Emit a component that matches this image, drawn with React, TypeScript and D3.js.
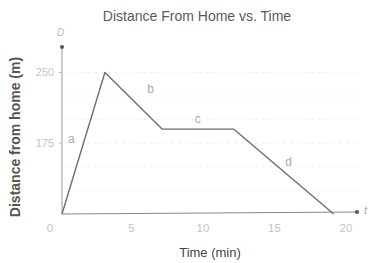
import React from 'react';
import * as d3 from 'd3';

// values
const times = [0, 3, 7, 12, 19];
const distances = [100, 250, 190, 190, 100];
const segmentLabels = ['a', 'b', 'c', 'd'];
const xTicks = [0, 5, 10, 15, 20];
const yTicks = [175, 250];
const gridValues = [125, 150, 175, 200, 225, 250];

const W = 373;
const H = 263;

const App: React.FC = () => {
  const x = d3.scaleLinear().domain([0, 20]).range([62, 348]);
  const y = d3.scaleLinear().domain([100, 277]).range([214, 47]);

  const pts = times.map((t, i) => [x(t), y(distances[i])] as [number, number]);
  const line = d3.line<[number, number]>()(pts) || '';

  // label offsets for each segment (px from the segment midpoint)
  const labelOffsets: [number, number][] = [[-12, 0], [17, -8], [0, -6], [5, -6]];

  const font = 'Liberation Sans, Arial, sans-serif';

  return (
    <svg width={W} height={H} style={{ position: 'absolute', left: 0, top: 0, background: '#fff' }}
      fontFamily={font}>
      <rect width={W} height={H} fill="#fff" />
      <text x={197} y={21} textAnchor="middle" fontSize={14} fill="#5a5a5a">
        Distance From Home vs. Time
      </text>

      {gridValues.map(v => (
        <line key={v} x1={x(0) + 4} x2={x(20) + 8} y1={y(v)} y2={y(v)}
          stroke="#f0f0f0" strokeWidth={1} strokeDasharray="3,4" />
      ))}

      {/* axes */}
      <line x1={x(0)} x2={x(0)} y1={y(100)} y2={y(277)} stroke="#999" strokeWidth={1} />
      <circle cx={x(0)} cy={y(277)} r={2} fill="#555" />
      <line x1={x(0)} x2={357} y1={y(100)} y2={y(100) - 2} stroke="#888" strokeWidth={1.2} />
      <circle cx={357} cy={y(100) - 2} r={2} fill="#555" />
      <text x={x(0) - 5} y={36} fontSize={10} fontStyle="italic" fill="#bbb">D</text>
      <text x={364} y={214} fontSize={11} fontStyle="italic" fill="#aaa">t</text>

      {yTicks.map(v => (
        <g key={v}>
          <line x1={x(0) - 3} x2={x(0)} y1={y(v)} y2={y(v)} stroke="#bbb" />
          <text x={x(0) - 8} y={y(v) + 4} textAnchor="end" fontSize={11} fill="#c4c4c4">{v}</text>
        </g>
      ))}
      {xTicks.map(t => (
        <text key={t} x={t === 0 ? x(t) - 12 : x(t) - 2} y={232} textAnchor="middle"
          fontSize={11.5} fill="#c4c4c4">{t}</text>
      ))}

      <path d={line} fill="none" stroke="#6e6e6e" strokeWidth={1.4} strokeLinejoin="round" />

      {segmentLabels.map((s, i) => {
        const mx = (pts[i][0] + pts[i + 1][0]) / 2 + labelOffsets[i][0];
        const my = (pts[i][1] + pts[i + 1][1]) / 2 + labelOffsets[i][1];
        return (
          <text key={s} x={mx} y={my} textAnchor="middle" fontSize={12} fill="#aaa">{s}</text>
        );
      })}

      <text x={210} y={257} textAnchor="middle" fontSize={13} fill="#444">Time (min)</text>
      <text transform="translate(20,137) rotate(-90)" textAnchor="middle" fontSize={14}
        fontWeight="bold" fill="#555">
        Distance from home (m)
      </text>
    </svg>
  );
};

export default App;
